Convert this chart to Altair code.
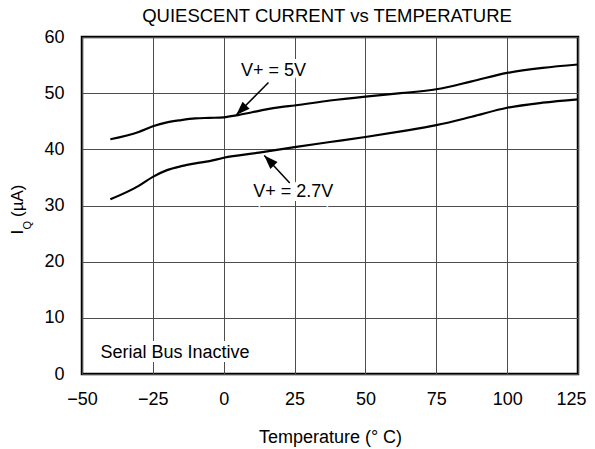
import altair as alt
import pandas as pd

# ---- data ----
temp_5v = [-40, -30, -25, -20, -15, -10, -5, 0, 5, 10, 15, 20, 25, 37.5, 50, 62.5, 75, 87.5, 100, 112.5, 125]
iq_5v = [41.8, 43.1, 44.1, 44.8, 45.2, 45.5, 45.6, 45.7, 46.1, 46.6, 47.1, 47.5, 47.8, 48.7, 49.4, 50.0, 50.7, 52.1, 53.6, 54.5, 55.1]

temp_27v = [-40, -30, -25, -20, -15, -10, -5, 0, 12.5, 25, 37.5, 50, 62.5, 75, 87.5, 100, 112.5, 125]
iq_27v = [31.1, 33.5, 35.1, 36.3, 37.0, 37.5, 37.9, 38.5, 39.4, 40.4, 41.3, 42.2, 43.2, 44.3, 45.8, 47.4, 48.3, 48.9]

x_ticks = [-50, -25, 0, 25, 50, 75, 100, 125]
y_ticks = [0, 10, 20, 30, 40, 50, 60]

# annotations (data coordinates)
note_text = ["V+ = 5V", "V+ = 2.7V", "Serial Bus Inactive"]
note_x = [6.1, 10.4, -43.5]
note_y = [53.9, 32.4, 3.7]

arrow_x1 = [15.8, 23.3]
arrow_y1 = [51.9, 34.0]
arrow_x2 = [4.4, 14.3]
arrow_y2 = [46.1, 38.9]
arrow_angle = [225, 316]

chart_title = "QUIESCENT CURRENT vs TEMPERATURE"

FONT = "Liberation Sans"

curves = pd.concat([
    pd.DataFrame({"T": temp_5v, "IQ": iq_5v, "s": "5V"}),
    pd.DataFrame({"T": temp_27v, "IQ": iq_27v, "s": "2.7V"}),
])
notes = pd.DataFrame({"t": note_text, "x": note_x, "y": note_y})
arrows = pd.DataFrame({"x1": arrow_x1, "y1": arrow_y1, "x2": arrow_x2, "y2": arrow_y2, "a": arrow_angle})

xs = alt.Scale(domain=[-50, 125], nice=False, zero=False)
ys = alt.Scale(domain=[0, 60], nice=False)

base_x = alt.X("T:Q", scale=xs,
               axis=alt.Axis(values=x_ticks, title="Temperature (° C)", grid=True,
                             labelPadding=16, titlePadding=20, labelFlush=False,
                             labelOffset={"condition": {"test": "datum.value == 125", "value": -7},
                                          "value": 0}))
base_y = alt.Y("IQ:Q", scale=ys,
               axis=alt.Axis(values=y_ticks, title=None, grid=True, labelPadding=18,
                             labelFlush=False))

lines = alt.Chart(curves).mark_line(color="black", strokeWidth=2.2, interpolate="monotone").encode(
    x=base_x, y=base_y, detail="s:N"
)

arrow_lines = alt.Chart(arrows).mark_rule(color="black", strokeWidth=1.5).encode(
    x=alt.X("x1:Q", scale=xs), y=alt.Y("y1:Q", scale=ys), x2="x2:Q", y2="y2:Q"
)
arrow_heads = alt.Chart(arrows).mark_point(
    shape="M0,0L1,2.8L-1,2.8Z", filled=True, color="black", opacity=1, size=100, strokeWidth=0
).encode(
    x=alt.X("x2:Q", scale=xs), y=alt.Y("y2:Q", scale=ys), angle=alt.Angle("a:Q", scale=None)
)

halo = alt.Chart(notes).mark_text(
    align="left", baseline="middle", font=FONT, fontSize=18, color="white",
    stroke="white", strokeWidth=8
).encode(x=alt.X("x:Q", scale=xs), y=alt.Y("y:Q", scale=ys), text="t:N")
labels = alt.Chart(notes).mark_text(
    align="left", baseline="middle", font=FONT, fontSize=18, color="black"
).encode(x=alt.X("x:Q", scale=xs), y=alt.Y("y:Q", scale=ys), text="t:N")

# chart title as a text mark above the plot
title_mark = alt.Chart(pd.DataFrame({"t": [chart_title]})).mark_text(
    align="center", baseline="alphabetic", font=FONT, fontSize=18.5, color="black"
).encode(x=alt.value(245), y=alt.value(-15), text="t:N")

# y-axis title with subscript Q
yt_I = alt.Chart(pd.DataFrame({"t": ["I"]})).mark_text(
    angle=270, align="left", baseline="alphabetic", font=FONT, fontSize=17, color="black"
).encode(x=alt.value(-59.5), y=alt.value(197.5), text="t:N")
yt_Q = alt.Chart(pd.DataFrame({"t": ["Q"]})).mark_text(
    angle=270, align="left", baseline="alphabetic", font=FONT, fontSize=11, color="black"
).encode(x=alt.value(-51), y=alt.value(192.5), text="t:N")
yt_U = alt.Chart(pd.DataFrame({"t": ["(µA)"]})).mark_text(
    angle=270, align="left", baseline="alphabetic", font=FONT, fontSize=17, color="black"
).encode(x=alt.value(-59.5), y=alt.value(180), text="t:N")

chart = alt.layer(lines, arrow_lines, arrow_heads, halo, labels, title_mark, yt_I, yt_Q, yt_U).properties(
    width=496, height=337,
    autosize=alt.AutoSizeParams(type="none"),
    padding={"left": 74, "top": 29, "right": 9, "bottom": 75},
).configure_axis(
    labelFont=FONT, labelFontSize=18, labelColor="black",
    titleFont=FONT, titleFontSize=18, titleColor="black", titleFontWeight="normal",
    gridColor="#4d4d4d", gridWidth=1, gridOpacity=1,
    domain=False, ticks=False,
).configure_view(
    stroke="black", strokeWidth=2.5
)

chart.save("out.html", embed_options={"renderer": "svg", "actions": False})
